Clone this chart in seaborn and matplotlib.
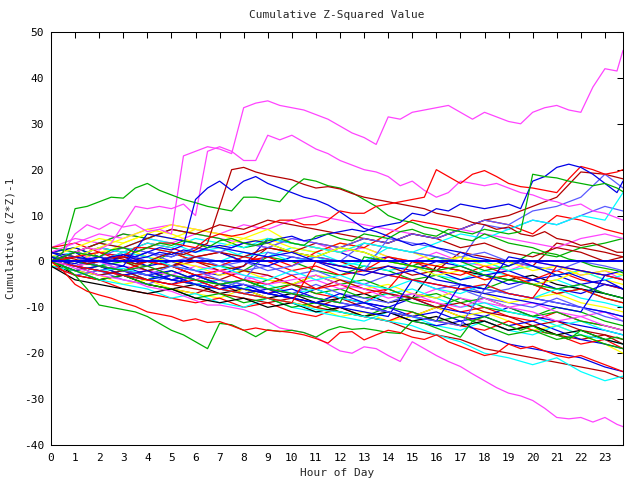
import matplotlib
matplotlib.use("Agg")
import matplotlib.pyplot as plt
import seaborn as sns
import pandas as pd

# ---------------- data ----------------
HOURS = [0, 1, 2, 3, 4, 5, 6, 7, 8, 9, 10, 11, 12, 13, 14, 15, 16, 17, 18, 19,
         20, 21, 22, 23, 23.75]
HALF_HOURS = [0, 0.5, 1, 1.5, 2, 2.5, 3, 3.5, 4, 4.5, 5, 5.5,
              6, 6.5, 7, 7.5, 8, 8.5, 9, 9.5, 10, 10.5, 11, 11.5,
              12, 12.5, 13, 13.5, 14, 14.5, 15, 15.5, 16, 16.5, 17, 17.5,
              18, 18.5, 19, 19.5, 20, 20.5, 21, 21.5, 22, 22.5, 23, 23.5,
              23.75]
X_TICKS = [0, 1, 2, 3, 4, 5, 6, 7, 8, 9, 10, 11, 12, 13, 14, 15, 16, 17, 18, 19,
           20, 21, 22, 23]
Y_TICKS = [-40, -30, -20, -10, 0, 10, 20, 30, 40, 50]

# half-hour sampled outlier series
magenta_top = [0, 2, 6, 8, 7, 8.5, 7.5, 8, 6.5, 7, 6, 23,
               24, 25, 24.5, 23.5, 33.5, 34.5, 35, 34, 33.5, 33, 32, 31,
               29.5, 28, 27, 25.5, 31.5, 31, 32.5, 33, 33.5, 34, 32.5, 31,
               32.5, 31.5, 30.5, 30, 32.5, 33.5, 34, 33, 32.5, 38, 42, 41.5,
               46]
magenta_second = [0, 1, 2, 3, 2.5, 4, 8, 12, 11.5, 12, 11.5, 12.5,
                  10, 24, 25, 24, 22, 22, 27.5, 26.5, 27.5, 26, 24.5, 23.5,
                  22, 21, 20, 19.5, 18.5, 16.5, 17.5, 15.5, 14, 15, 17.5, 17,
                  16.5, 17, 16, 15, 14.5, 13.5, 13, 12, 12.5, 11, 10.5, 9.5,
                  9]
magenta_bottom = [0, -0.5, -1.5, -2, -3, -3.5, -4, -4.5, -5.5, -6, -6.5, -7.5,
                  -8.5, -9.5, -9.5, -10, -10.5, -11.5, -13, -14.5, -15, -15.5, -16.5, -18,
                  -19.5, -20, -18.6, -19, -20.5, -21.8, -17.5, -19, -20.5, -21.8, -22.9, -24.5,
                  -26, -27.5, -28.7, -29.3, -30.3, -32, -34, -34.3, -34, -35, -34, -35.5,
                  -36]
green_high = [0, 2, 11.5, 12, 13, 14, 13.8, 16, 17, 15.5, 14.5, 13.5,
              12.8, 12, 11.5, 11, 14, 14, 13.5, 13, 16, 18, 17.5, 16.5,
              16, 15, 13.5, 12, 10, 9, 8.5, 7.5, 7, 6, 5, 4.5,
              6, 5, 4, 3.5, 3, 2, 1.5, 0.5, 0, -1, -1.5, -2,
              -2.5]
green_low = [0, -1, -3, -6, -9.5, -10, -10.5, -11, -12, -13.5, -15, -16,
             -17.5, -19, -13.5, -13.8, -15, -16.4, -14.9, -15.3, -15, -15.5, -16.5, -15,
             -14.2, -14.8, -14.6, -15, -15.5, -15.7, -13, -13.5, -14.5, -15.5, -16.5, -13,
             -12, -13, -14, -15, -14, -15.5, -16, -17, -15, -16, -17, -16.5,
             -17]
red_low = [0, -2, -5, -6.5, -7.3, -8, -9, -9.8, -11, -11.5, -12, -13,
           -12.5, -13.3, -13.1, -14, -15, -14.5, -15, -15.2, -15.5, -16, -16.8, -17.8,
           -15.5, -15.3, -17.1, -16, -15, -15.5, -16.5, -17, -16, -17.5, -18.5, -19.5,
           -20.5, -20, -18, -19, -18.5, -19.5, -20.5, -21, -20.5, -21.5, -22.5, -23.5,
           -24]
darkred_high = [0, 1, 0.5, -0.5, 0, 1, 0.5, -0.5, 0, 1, 2, 1.5,
                2.5, 4, 12, 20, 20.5, 19.5, 18.8, 18.3, 17.8, 16.8, 16, 16.3,
                15.8, 14.8, 14, 13.5, 13, 12.5, 12, 11.5, 10.5, 10, 9.5, 8.5,
                8, 7, 7.5, 6, 5.5, 6.5, 5, 4.5, 3.5, 4, 3, 2,
                2]
blue_high = [2, 1, 2, 0.5, 1, 0, 1.5, 1, 2, 3, 2.5, 3.5,
             13.5, 16, 17.5, 15.5, 17.5, 18.5, 17, 16, 15, 14, 13.4, 12.3,
             10.8, 9, 7.2, 6.5, 5.5, 4.5, 3.5, 4, 3, 2.5, 2, 1,
             0.5, 0, -1, 0, -1, -2, -3, -2.5, -3.5, -4.5, -5, -5.5,
             -6]
red_high_right = [0, 0.5, 1, 1.5, 2, 1, 1, 3, 3, 4, 4, 3.5,
                  3, 5, 6, 5.5, 6, 7, 8, 9, 9, 8, 8, 9,
                  11, 10.5, 10.5, 12, 12.5, 13, 13.5, 14,
                  20, 18.5, 17, 19, 19.8, 18.5, 17, 16.3, 16, 15.5, 15, 18, 20.7, 20, 19, 19.5,
                  20]
blue_high_right = [1, 0, -0.5, 0.5, 0, 1, 1.5, 0.5, 1, 2, 1.5, 2.5,
                   2, 3, 3.5, 3, 4, 4.5, 4, 5, 5.5, 4.5, 5, 6,
                   6.5, 7, 6.5, 7.5, 8, 8.5, 10.5, 10, 11.5, 11, 12.5, 12,
                   11.5, 12, 12.5, 11.5, 17.5, 18.5, 20.5, 21.2, 20.5, 19, 17, 15,
                   17.5]
green_high_right = [0, 1, 2, 1.5, 1, 2.5, 3, 2, 3, 4, 3.5, 4.5,
                    4, 3, 4.5, 5, 4, 3.5, 4.5, 5, 4, 3.5, 5.5, 6,
                    5, 4.5, 6, 5.5, 5, 6.5, 7, 6, 5.5, 7, 6.5, 6,
                    7, 6.5, 6, 6.5, 19, 18.5, 18.2, 17.5, 17, 16.5, 17, 16,
                    15.2]

# hourly sampled series
cyan_bottom = [0, -1, -2, -1.5, -3, -4, -5, -6, -7, -8, -9, -10.5, -11, -12, -13, -14,
               -16, -17.5, -20, -21, -22.5, -21, -24, -26, -25]
red_a = [1, -1, -2, -3, -2, -4, -5, -4, -6, -7, -5, -7, -8, -9, -6, -8, -9, -11, -10, -12, -13, -11, -13, -14, -15]
green_a = [2, 3, 1, 0, -1, 2, 0, -1, -2, 1, 0, -2, -3, -1, -2, -4, -3, -5, -6, -4, -5, -7, -6, -8, -9]
blue_a = [0, -2, -3, -2, -4, -5, -3, -5, -6, -7, -8, -6, -8, -9, -10, -8, -10, -11, -12, -10, -12, -13, -14, -15, -16]
magenta_a = [3, 5, 4, 6, 5, 4, 6, 5, 4, 3, 5, 4, 2, 3, 1, 0, 2, 0, -1, -2, 0, -1, -3, -2, -4]
cyan_a = [1, 0, -1, 1, 3, 2, 1, 0, 2, 1, 3, 2, 0, -1, -2, -1, -3, -4, -2, -3, -5, -4, -6, -7, -8]
yellow_a = [0, 2, 1, 4, 6, 5, 7, 6, 4, 5, 3, 2, 4, 3, 1, 0, -1, 1, 0, -2, -1, -3, -2, -4, -5]
darkred_a = [-1, -2, -4, -3, -5, -6, -7, -5, -7, -8, -9, -10, -8, -10, -11, -12, -10, -12, -13, -15, -14, -16, -17, -16, -18]
lightblue_a = [2, 1, 3, 2, 0, -1, 1, 0, -2, -1, -3, -2, -4, -5, -3, -4, -6, -5, -7, -6, -4, -6, -5, -7, -8]
black_a = [0, -3, -4, -3, -5, -6, -5, -7, -6, -8, -7, -9, -8, -7, -9, -8, -1, -2, -3, -4, -3, -5, -6, -7, -8]
red_b = [0, 1, 3, 2, 4, 3, 1, 2, 0, 1, -1, 2, 4, 3, 6, 9, 8, 7, 9, 8, 6, 10, 9, 7, 6]
green_b = [-1, -2, -1, -3, -4, -2, -4, -5, -6, -4, -5, -7, -6, -8, -7, -9, -10, -8, -10, -11, -12, -10, -11, -13, -14]
blue_b = [1, 0, 2, 1, -1, 0, -2, -3, -1, 5, 4, 3, 2, 0, 1, -1, -2, -4, -3, -5, -4, -6, -7, -5, -6]
magenta_b = [1, 2, 0, -1, -2, -3, -1, -2, -4, -3, -5, -4, -6, -5, -7, -8, -6, -8, -9, -10, -9, -11, -12, -11, -13]
cyan_b = [0, -1, -3, -2, -4, -3, -5, -4, -6, -5, -7, -6, -8, -9, -7, -6, -8, -10, -9, -11, -12, -14, -13, -15, -16]
yellow_b = [0, -2, -3, -5, -4, -6, -7, -8, -6, -8, -9, -10, -12, -11, -13, -12, -10, -12, -11, -13, -15, -14, -16, -18, -20]
darkred_b = [2, 1, 0, 2, 1, -1, 0, -2, -1, 3, 2, 1, 0, -2, -1, -3, -2, 2, 1, 0, -1, 4, 3, 2, 1]
lightblue_b = [-1, -3, -2, -4, -5, -3, -5, -6, -4, -6, -7, -5, -7, -8, -9, -7, -8, -6, -8, -9, -10, -8, -10, -11, -12]
red_c = [3, 4, 2, 1, 3, 2, 0, -1, 1, 0, -2, -1, -3, -2, 1, 0, -2, -3, -1, -3, -4, -2, -4, -5, -6]
green_c = [0, 1, -1, 0, -2, -1, -3, -5, -4, -6, -5, -3, -5, -4, -6, -8, -7, -9, -8, -10, -12, -11, -13, -14, -15]
blue_c = [2, 3, 1, 0, 2, 1, 3, 2, 0, -1, 1, 0, -2, -3, -1, -2, 0, -1, -3, -2, -4, -3, -5, -4, -6]
cyan_c = [1, 2, 4, 3, 5, 4, 2, 3, 1, 2, 0, 1, -1, 0, 3, 2, 1, -1, 0, -2, -1, -3, -2, -4, -3]
yellow_c = [-1, 0, 2, 3, 1, 0, -1, -3, -2, -4, -5, -3, -4, -6, -5, -7, -8, -6, -7, -9, -8, -7, -9, -10, -11]
darkred_c = [0, -1, 1, 0, -2, -1, -3, -4, -2, -3, -5, -6, -4, -6, -7, -8, -10, -9, -11, -12, -14, -13, -15, -16, -17]
blue_d = [1, -1, -2, -1, -3, -2, -4, -6, -5, -7, -8, -9, -7, -9, -10, -12, -11, -13, -12, -14, -13, -15, -17, -18, -19]
green_d = [3, 2, 4, 6, 5, 7, 6, 5, 3, 4, 2, 1, 3, 2, 0, -1, 1, 0, -2, -1, 2, 1, 3, 4, 5]
red_d = [-1, -3, -4, -6, -7, -8, -9, -8, -10, -9, -11, -12, -10, -12, -13, -11, -13, -14, -15, -13, -15, -16, -18, -17, -19]
magenta_c = [2, 4, 6, 5, 7, 8, 7, 6, 8, 7, 9, 10, 9, 8, 7, 6, 5, 7, 6, 5, 4, 3, 5, 6, 5]
cyan_d = [-1, -2, -4, -5, -6, -8, -7, -9, -10, -8, -10, -11, -12, -13, -11, -12, -14, -15, -13, -15, -16, -14, -16, -17, -18]
blue_e = [0, -1, 0, -2, -3, -4, -3, -5, -4, 2, 1, 0, -1, -2, 5, 4, 3, 1, 2, 0, -1, -2, 0, -1, -2]
yellow_d = [1, 3, 5, 4, 6, 8, 7, 6, 5, 7, 4, 3, 2, 4, 3, 2, 0, 1, -1, 0, -2, -1, -3, -2, -3]
lightblue_c = [0, 2, 1, 3, 2, 0, 1, -1, 0, -2, -1, 1, 0, 4, 3, 2, 1, 0, 8, 7, 9, 8, 10, 12, 11]
darkred_d = [0, 2, 4, 3, 5, 7, 6, 8, 7, 9, 8, 7, 6, 5, 4, 6, 5, 3, 4, 2, 1, 3, 2, 0, 1]
darkred_e = [0, -1, 0, 1, 0, -1, 1, 2, 1, 3, 2, 4, 3, 5, 4, 6, 5, 7, 9, 10, 12, 14, 19.5, 19, 18]
cyan_e = [0, 1, 3, 2, 4, 3, 5, 4, 3, 5, 4, 3, 2, 4, 3, 2, 4, 6, 5, 7, 9, 8, 10, 9, 15]
lightblue_d = [0, -1, 1, 0, 2, 1, 3, 2, 4, 3, 5, 4, 3, 5, 4, 6, 5, 7, 9, 8, 11, 12, 14, 19, 16]
blue_g = [0, -2, -1, -3, -4, -3, -5, -6, -7, -6, -8, -9, -10, -9, -11, -13, -14, -13, -16, -18, -19, -20, -21, -23, -24]
darkred_f = [0, -1, -3, -2, -4, -5, -6, -7, -8, -9, -8, -10, -11, -12, -13, -15, -16, -17, -19, -20, -21, -22, -23, -24, -25.5]
yellow_e = [2, 1, 3, 5, 7, 6, 4, 3, 5, 4, 2, 1, 3, 2, 0, -1, -3, -2, -4, -3, -5, -4, -2, -3, -4]
green_f = [0, -2, -4, -3, -5, -6, -8, -7, -9, -8, -10, -9, -11, -12, -10, -11, -13, -12, -14, -16, -15, -17, -16, -18, -19]
red_f = [0, 1, -1, -2, 0, -1, -3, -2, -4, -5, -3, -6, -5, -7, -6, 0, -1, -2, -4, -3, -5, -7, -6, -8, -9]
magenta_d = [0, -1, 0, -2, -1, -3, -4, -2, -3, -5, -4, -3, -5, -6, -8, -7, -9, -10, -8, -10, -11, -13, -12, -14, -15]
cyan_f = [0, 1, 0, 2, 1, -1, -2, -1, -3, -4, -2, -4, -3, -5, -6, -4, -6, -7, -5, -7, -8, -6, -8, -9, -10]
black_b = [-1, -4, -5, -6, -7, -6, -8, -9, -8, -10, -9, -11, -10, -12, -11, -13, -12, -14, -13, -15, -14, -16, -15, -17, -18]
blue_h = [0, -1, -2, -3, -2, -4, -5, -6, -5, -7, -8, -9, -10, -11, -12, -4, -5, -6, -7, -8, -9, -10, -11, -3, -4]
blue_i = [1, 0, -1, -2, -3, -4, -3, -5, -6, -7, -6, -8, -9, -10, -11, -12, -13, -5, -6, -7, -8, -9, -10, -11, -12]
lightblue_e = [0, 1, -1, -2, -3, -1, -2, -4, -5, -6, -7, -8, -9, -10, -11, -12, -13, -14, -6, -7, -8, -9, -10, -12, -13]
red_g = [0, -1, -2, -3, -4, -5, -4, -6, -7, -8, -9, 0, -1, -2, -3, -4, -5, -6, -5, -7, -8, -1, -2, -3, -4]
green_g = [1, 0, -1, -2, -1, -3, -4, -5, -4, -6, -7, -8, -9, 1, 0, -1, -2, -1, -3, -4, -5, -6, -5, -7, -8]
blue_j = [2, 1, 0, -1, 6, 5, 4, 3, 2, 1, 2, 0, -1, -2, -3, -2, -4, -5, -6, 1, 0, -1, -2, -3, -2]
zero_line = [0, 0, 0, 0, 0, 0, 0, 0, 0, 0, 0, 0, 0, 0, 0, 0, 0, 0, 0, 0, 0, 0, 0, 0, 0]

# ---------------- styles ----------------
RED = "#ff0000"
GREEN = "#00b000"
BLUE = "#0000e8"
LIGHTBLUE = "#5a5aff"
MAGENTA = "#ff44ff"
CYAN = "#00ffff"
YELLOW = "#ffff00"
DARKRED = "#b40000"
BLACK = "#000000"

hourly = [
    ("red_a", red_a, RED), ("green_a", green_a, GREEN), ("blue_a", blue_a, BLUE),
    ("magenta_a", magenta_a, MAGENTA), ("cyan_a", cyan_a, CYAN), ("yellow_a", yellow_a, YELLOW),
    ("darkred_a", darkred_a, DARKRED), ("lightblue_a", lightblue_a, LIGHTBLUE), ("black_a", black_a, BLACK),
    ("red_b", red_b, RED), ("green_b", green_b, GREEN), ("blue_b", blue_b, BLUE),
    ("magenta_b", magenta_b, MAGENTA), ("cyan_b", cyan_b, CYAN), ("yellow_b", yellow_b, YELLOW),
    ("darkred_b", darkred_b, DARKRED), ("lightblue_b", lightblue_b, LIGHTBLUE),
    ("red_c", red_c, RED), ("green_c", green_c, GREEN), ("blue_c", blue_c, BLUE),
    ("cyan_c", cyan_c, CYAN), ("yellow_c", yellow_c, YELLOW), ("darkred_c", darkred_c, DARKRED),
    ("blue_d", blue_d, BLUE), ("green_d", green_d, GREEN), ("red_d", red_d, RED),
    ("magenta_c", magenta_c, MAGENTA), ("cyan_d", cyan_d, CYAN), ("blue_e", blue_e, LIGHTBLUE),
    ("yellow_d", yellow_d, YELLOW), ("lightblue_c", lightblue_c, LIGHTBLUE), ("darkred_d", darkred_d, DARKRED),
    ("darkred_e", darkred_e, DARKRED), ("cyan_e", cyan_e, CYAN), ("lightblue_d", lightblue_d, LIGHTBLUE),
    ("blue_g", blue_g, BLUE), ("darkred_f", darkred_f, DARKRED), ("yellow_e", yellow_e, YELLOW),
    ("green_f", green_f, GREEN), ("red_f", red_f, RED), ("magenta_d", magenta_d, MAGENTA),
    ("cyan_f", cyan_f, CYAN), ("black_b", black_b, BLACK), ("cyan_bottom", cyan_bottom, CYAN),
    ("blue_h", blue_h, BLUE), ("blue_i", blue_i, BLUE), ("lightblue_e", lightblue_e, LIGHTBLUE),
    ("red_g", red_g, RED), ("green_g", green_g, GREEN), ("blue_j", blue_j, BLUE),
]
half_hourly = [
    ("magenta_top", magenta_top, MAGENTA), ("magenta_second", magenta_second, MAGENTA),
    ("magenta_bottom", magenta_bottom, MAGENTA), ("green_high", green_high, GREEN),
    ("green_low", green_low, GREEN), ("red_low", red_low, RED),
    ("darkred_high", darkred_high, DARKRED), ("blue_high", blue_high, BLUE),
    ("red_high_right", red_high_right, RED), ("blue_high_right", blue_high_right, BLUE),
    ("green_high_right", green_high_right, GREEN),
]

frames = []
palette = {}
order = []
for name, vals, col in hourly:
    frames.append(pd.DataFrame({"hour": HOURS, "value": vals, "series": name}))
    palette[name] = col
    order.append(name)
for name, vals, col in half_hourly:
    frames.append(pd.DataFrame({"hour": HALF_HOURS, "value": vals, "series": name}))
    palette[name] = col
    order.append(name)
df = pd.concat(frames, ignore_index=True)
zero_df = pd.DataFrame({"hour": HOURS, "value": zero_line})

# ---------------- plot ----------------
sns.set_style("white")
plt.rcParams["font.family"] = ["DejaVu Sans Mono"]

fig = plt.figure(figsize=(6.4, 4.8), dpi=100)
ax = fig.add_axes([51 / 640, 35 / 480, 572 / 640, 413 / 480])

sns.lineplot(data=df, x="hour", y="value", hue="series", hue_order=order,
             palette=palette, estimator=None, sort=False, legend=False,
             linewidth=0.9, ax=ax)
sns.lineplot(data=zero_df, x="hour", y="value", color=BLUE, linewidth=1.4,
             estimator=None, sort=False, legend=False, ax=ax)

ax.set_xlim(0, 23.75)
ax.set_ylim(-40, 50)
ax.set_xticks(X_TICKS)
ax.set_xticklabels([str(t) for t in X_TICKS])
ax.set_yticks(Y_TICKS)
ax.set_yticklabels([str(t) for t in Y_TICKS])
ax.set_xlabel("")
ax.set_ylabel("")
ax.tick_params(axis="both", direction="in", length=4.5, width=0.75,
               top=True, right=True, labelsize=8, colors="black")
ax.tick_params(axis="x", pad=5.5)
ax.tick_params(axis="y", pad=5)
for sp in ax.spines.values():
    sp.set_visible(True)
    sp.set_color("black")
    sp.set_linewidth(0.75)

fig.text(337 / 640, 1 - 15 / 480, "Cumulative Z-Squared Value",
         ha="center", va="center", fontsize=8)
fig.text(337 / 640, 1 - 473 / 480, "Hour of Day",
         ha="center", va="center", fontsize=8)
fig.text(11 / 640, 1 - 238 / 480, "Cumulative (Z*Z)-1",
         ha="center", va="center", rotation=90, fontsize=8)

fig.savefig("out.png", dpi=100)
